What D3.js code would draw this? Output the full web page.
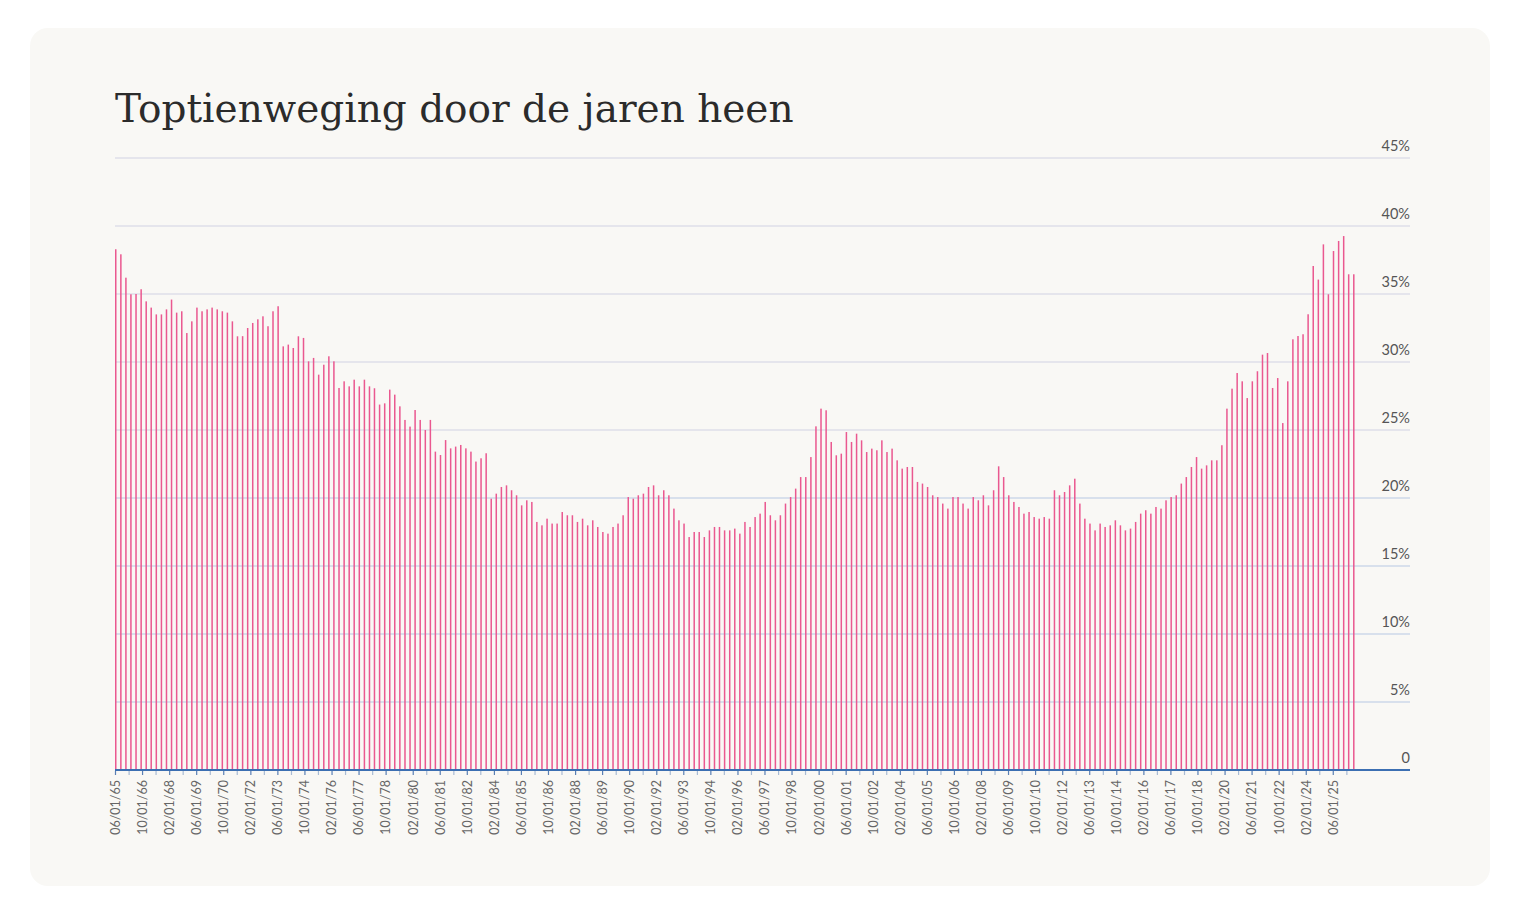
<!DOCTYPE html>
<html><head><meta charset="utf-8">
<script src="https://cdn.jsdelivr.net/npm/d3@7"></script>
<style>
html,body{margin:0;padding:0;background:#ffffff;}
svg{display:block;}
</style></head>
<body>
<svg id="chart" width="1521" height="915"></svg>
<script>
// ---------- data ----------
const title = "Toptienweging door de jaren heen";
const firstDate = new Date(1965, 5, 1);   // 06/01/65, one bar per quarter
const monthsPerBar = 3;
const monthsPerTick = 8;
const labelEveryTicks = 2;
const values = [
  38.29, 37.92, 36.2, 34.98, 35.0, 35.35, 34.46, 34.0, 33.5, 33.5, 33.87, 34.59, 33.63, 33.73, 32.13, 32.99, 34.0, 33.73, 33.87, 34.0, 33.87, 33.73, 33.63, 32.99, 31.89,
  31.9, 32.5, 32.87, 33.14, 33.36, 32.63, 33.73, 34.1, 31.15, 31.28, 31.03, 31.89, 31.77, 30.05, 30.3, 29.07, 29.8, 30.42, 30.05, 28.09, 28.58, 28.21, 28.7, 28.21, 28.7,
  28.21, 28.07, 26.87, 26.96, 27.97, 27.6, 26.74, 25.74, 25.25, 26.47, 25.74, 25.0, 25.74, 23.41, 23.16, 24.26, 23.65, 23.78, 23.9, 23.65, 23.41, 22.68, 22.92, 23.29,
  19.95, 20.32, 20.81, 20.93, 20.57, 20.2, 19.46, 19.83, 19.71, 18.24, 17.99, 18.48, 18.12, 18.12, 18.97, 18.73, 18.73, 18.24, 18.48, 17.99, 18.36, 17.87, 17.5, 17.38, 17.87,
  18.12, 18.73, 20.07, 19.95, 20.2, 20.32, 20.81, 20.93, 20.2, 20.57, 20.2, 19.22, 18.36, 18.12, 17.13, 17.5, 17.5, 17.13, 17.62, 17.87, 17.87, 17.62, 17.62, 17.75, 17.38,
  18.24, 17.87, 18.6, 18.85, 19.71, 18.73, 18.36, 18.73, 19.59, 20.07, 20.69, 21.54, 21.54, 23.01, 25.27, 26.57, 26.45, 24.12, 23.14, 23.26, 24.85, 24.12, 24.73, 24.24,
  23.38, 23.63, 23.51, 24.24, 23.38, 23.63, 22.77, 22.16, 22.28, 22.28, 21.18, 21.06, 20.81, 20.2, 20.07, 19.59, 19.22, 20.07, 20.07, 19.59, 19.22, 20.07, 19.83, 20.2, 19.46,
  20.57, 22.33, 21.54, 20.2, 19.71, 19.34, 18.85, 18.97, 18.6, 18.48, 18.6, 18.48, 20.57, 20.2, 20.44, 20.93, 21.42, 19.59, 18.48, 18.12, 17.62, 18.12, 17.87, 17.99, 18.36,
  17.99, 17.62, 17.75, 18.24, 18.85, 19.1, 18.85, 19.34, 19.22, 19.83, 20.07, 20.2, 21.06, 21.54, 22.28, 23.01, 22.16, 22.4, 22.77, 22.77, 23.88, 26.57, 28.04, 29.19,
  28.58, 27.35, 28.58, 29.32, 30.54, 30.66, 28.09, 28.82, 25.51, 28.58, 31.67, 31.91, 32.04, 33.51, 37.06, 36.06, 38.65, 34.98, 38.16, 38.9, 39.26, 36.45, 36.45
];
const yTicks = [0, 5, 10, 15, 20, 25, 30, 35, 40, 45];
const yTickLabels = ["0", "5%", "10%", "15%", "20%", "25%", "30%", "35%", "40%", "45%"];
const axisEndDate = new Date(2029, 2, 22);

// ---------- build ----------
const dates = values.map((v, i) => d3.timeMonth.offset(firstDate, i * monthsPerBar));
const data = values.map((v, i) => ({date: dates[i], value: v}));
const lastDate = dates[dates.length - 1];
const tickDates = [];
for (let t = firstDate; t <= lastDate; t = d3.timeMonth.offset(t, monthsPerTick)) tickDates.push(t);

const svg = d3.select("#chart");
const m = {left: 115, right: 1410, top: 158, bottom: 770};

svg.append("rect").attr("x", 30).attr("y", 28).attr("width", 1460).attr("height", 858)
  .attr("rx", 18).attr("fill", "#f9f8f5");

svg.append("text").attr("x", 115).attr("y", 122)
  .attr("font-family", "'DejaVu Serif', serif").attr("font-size", 39)
  .attr("fill", "#2b2b2b").text(title);

const x = d3.scaleTime().domain([firstDate, axisEndDate]).range([m.left, m.right]);
const y = d3.scaleLinear().domain([0, 45]).range([m.bottom, m.top]);

// gridlines
svg.append("g").selectAll("line").data(yTicks.filter(d => d > 0)).join("line")
  .attr("x1", m.left).attr("x2", m.right)
  .attr("y1", d => y(d)).attr("y2", d => y(d))
  .attr("stroke", d => d >= 25 ? "#dedfe9" : "#cdd8e8").attr("stroke-width", 1.4);

// y labels
svg.append("g").selectAll("text").data(yTicks).join("text")
  .attr("x", m.right).attr("y", d => y(d) - 7)
  .attr("text-anchor", "end")
  .attr("font-family", "Lato, sans-serif").attr("font-size", 14.5)
  .attr("fill", "#555").text((d, i) => yTickLabels[i]);

// bars
svg.append("g").selectAll("rect").data(data).join("rect")
  .attr("x", d => x(d.date))
  .attr("width", 1.5)
  .attr("y", d => y(d.value))
  .attr("height", d => y(0) - y(d.value))
  .attr("fill", "#ea5890");

// x axis
const xAxis = d3.axisBottom(x).tickValues(tickDates).tickSize(4)
  .tickFormat((d, i) => i % labelEveryTicks === 0 ? d3.timeFormat("%m/%d/%y")(d) : "");
const gx = svg.append("g").attr("transform", `translate(0,${m.bottom})`).call(xAxis);
gx.select(".domain").attr("stroke", "#3c6fb2").attr("stroke-width", 2)
  .attr("d", `M${m.left},0H${m.right}`);
gx.selectAll(".tick line")
  .attr("stroke", (d, i) => i % labelEveryTicks === 0 ? "#5a7fb3" : "#a9bbd4")
  .attr("stroke-width", 1.2).attr("y1", 1).attr("y2", 5);
gx.selectAll(".tick text")
  .attr("transform", "rotate(-90)")
  .attr("text-anchor", "end")
  .attr("x", -10).attr("y", 0).attr("dy", "0.35em")
  .attr("font-family", "Lato, sans-serif").attr("font-size", 12.5)
  .attr("fill", "#666");
</script>
</body></html>
